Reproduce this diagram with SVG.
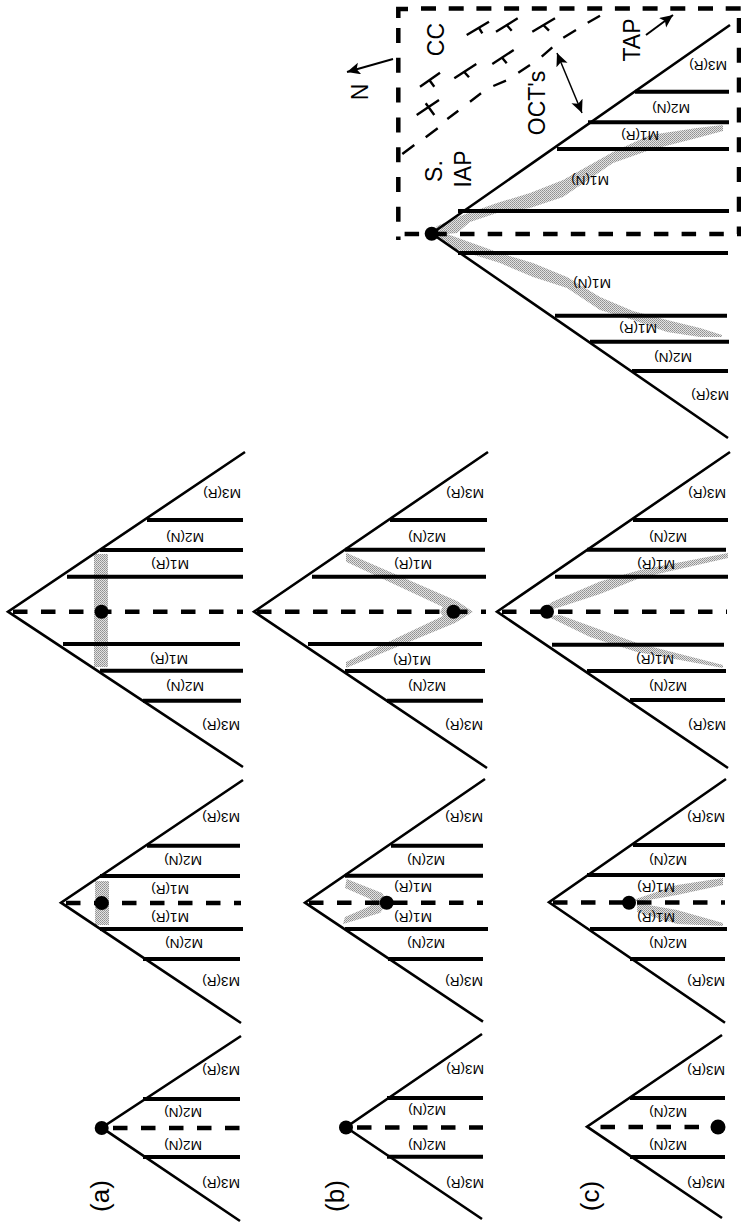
<svg xmlns="http://www.w3.org/2000/svg" width="741" height="1225" viewBox="0 0 741 1225">
<style>
.arm{fill:none;stroke:#000;stroke-width:2.6}
.m{fill:none;stroke:#000;stroke-width:4}
.axis{fill:none;stroke:#000;stroke-width:4.5;stroke-dasharray:14.5 13.5}
.band{fill:url(#st);stroke:none}
.dot{fill:#000}
text{font-family:"Liberation Sans",Arial,sans-serif;fill:#000;text-anchor:middle;dominant-baseline:central}
.l{font-size:13.6px}
.b{font-size:23px}
.p{font-size:26px}
.thin{fill:none;stroke:#000;stroke-width:1.5}
.oct{fill:none;stroke:#000;stroke-width:2.4}
.box{fill:none;stroke:#000;stroke-width:4.5}
</style>
<defs>
<pattern id="st" width="2" height="2" patternUnits="userSpaceOnUse"><rect width="2" height="2" fill="#e2e2e2"/><rect width="1" height="1" fill="#909090"/><rect x="1" y="1" width="1" height="1" fill="#a0a0a0"/></pattern>
<marker id="ah" markerUnits="userSpaceOnUse" markerWidth="16" markerHeight="14" refX="13" refY="6" orient="auto-start-reverse"><path d="M0 0L13 6L0 12L3 6Z" fill="#000"/></marker>
</defs>

<g id="panel-a1">
<path class="arm" d="M241 1036L101.7 1127.7L240 1221"/>
<path class="m" d="M143 1099H240M143 1157H240"/>
<path class="axis" d="M113 1128H240"/>
<circle class="dot" cx="101.7" cy="1128" r="7"/>
<text class="l" x="221" y="1070" transform="rotate(180 221 1070)">M3(R)</text>
<text class="l" x="183" y="1112" transform="rotate(180 183 1112)">M2(N)</text>
<text class="l" x="183" y="1145" transform="rotate(180 183 1145)">M2(N)</text>
<text class="l" x="221" y="1183" transform="rotate(180 221 1183)">M3(R)</text>
<text class="p" x="100" y="1196" transform="rotate(-90 100 1196)">(a)</text>
</g>
<g id="panel-a2">
<rect class="band" x="95" y="881" width="14" height="44"/>
<path class="arm" d="M243 780L61 902.7L241 1023"/>
<path class="m" d="M147 845.7H240M100 876H240M100 929H243M143 959H240"/>
<path class="axis" d="M66 903H241"/>
<circle class="dot" cx="101.7" cy="903" r="7"/>
<text class="l" x="221" y="817" transform="rotate(180 221 817)">M3(R)</text>
<text class="l" x="183" y="860" transform="rotate(180 183 860)">M2(N)</text>
<text class="l" x="170" y="889" transform="rotate(180 170 889)">M1(R)</text>
<text class="l" x="170" y="917" transform="rotate(180 170 917)">M1(R)</text>
<text class="l" x="184" y="943" transform="rotate(180 184 943)">M2(N)</text>
<text class="l" x="221" y="981" transform="rotate(180 221 981)">M3(R)</text>
</g>
<g id="panel-a3">
<rect class="band" x="94" y="554" width="14" height="113"/>
<path class="arm" d="M245 452L8 611.7L243 767"/>
<path class="m" d="M147 520H243M100 550H243M67 576.7H243M63 644H240M100 670.7H243M143 700.7H241"/>
<path class="axis" d="M13 611.7H243"/>
<circle class="dot" cx="101.5" cy="611.7" r="7"/>
<text class="l" x="222" y="493" transform="rotate(180 222 493)">M3(R)</text>
<text class="l" x="185" y="537" transform="rotate(180 185 537)">M2(N)</text>
<text class="l" x="170" y="564" transform="rotate(180 170 564)">M1(R)</text>
<text class="l" x="169" y="659" transform="rotate(180 169 659)">M1(R)</text>
<text class="l" x="185" y="686" transform="rotate(180 185 686)">M2(N)</text>
<text class="l" x="221" y="725" transform="rotate(180 221 725)">M3(R)</text>
</g>

<g id="panel-b1">
<path class="arm" d="M482 1034L346 1127.3L482 1219"/>
<path class="m" d="M387 1098H483M387 1156.7H483"/>
<path class="axis" d="M357 1127.5H483"/>
<circle class="dot" cx="346" cy="1127.5" r="7"/>
<text class="l" x="465" y="1069" transform="rotate(180 465 1069)">M3(R)</text>
<text class="l" x="427" y="1110" transform="rotate(180 427 1110)">M2(N)</text>
<text class="l" x="427" y="1145" transform="rotate(180 427 1145)">M2(N)</text>
<text class="l" x="465" y="1183" transform="rotate(180 465 1183)">M3(R)</text>
<text class="p" x="335" y="1196" transform="rotate(-90 335 1196)">(b)</text>
</g>
<g id="panel-b2">
<path class="band" d="M346.7 879L382 893L388 902.7L380 913L343 924L345 917L368 907L375 902.7L368 898L345 888Z"/>
<path class="arm" d="M485 779L305 902.7L483 1021.7"/>
<path class="m" d="M391 845.7H483M345 875.7H483M345 929H488M388 959H483"/>
<path class="axis" d="M309 902.7H483"/>
<circle class="dot" cx="386.7" cy="902.7" r="7"/>
<text class="l" x="464" y="817" transform="rotate(180 464 817)">M3(R)</text>
<text class="l" x="426" y="860" transform="rotate(180 426 860)">M2(N)</text>
<text class="l" x="413" y="887" transform="rotate(180 413 887)">M1(R)</text>
<text class="l" x="413" y="917" transform="rotate(180 413 917)">M1(R)</text>
<text class="l" x="426" y="943" transform="rotate(180 426 943)">M2(N)</text>
<text class="l" x="464" y="981" transform="rotate(180 464 981)">M3(R)</text>
</g>
<g id="panel-b3">
<path class="band" d="M346 552.7L457 601L473 611.7L455 623L346 668L346 662L443 616L440 611.7L443 607L346 561.7Z"/>
<path class="arm" d="M488 452L254 611.7L487 768"/>
<path class="m" d="M390 520H487M345 549.7H485M312 576.7H486M308 644H482M345 671H485M387 700.7H483"/>
<path class="axis" d="M257 611.7H486"/>
<circle class="dot" cx="453.5" cy="611.7" r="7"/>
<text class="l" x="465" y="493" transform="rotate(180 465 493)">M3(R)</text>
<text class="l" x="427" y="537" transform="rotate(180 427 537)">M2(N)</text>
<text class="l" x="413" y="564" transform="rotate(180 413 564)">M1(R)</text>
<text class="l" x="412" y="660" transform="rotate(180 412 660)">M1(R)</text>
<text class="l" x="427" y="686" transform="rotate(180 427 686)">M2(N)</text>
<text class="l" x="464" y="725" transform="rotate(180 464 725)">M3(R)</text>
</g>

<g id="panel-c1">
<path class="arm" d="M722 1035L587 1126.7L722 1218"/>
<path class="m" d="M630 1098H725M630 1157H725"/>
<path class="axis" d="M600.5 1127H699"/>
<circle class="dot" cx="718" cy="1127" r="7.5"/>
<text class="l" x="706" y="1070" transform="rotate(180 706 1070)">M3(R)</text>
<text class="l" x="668" y="1112" transform="rotate(180 668 1112)">M2(N)</text>
<text class="l" x="668" y="1145" transform="rotate(180 668 1145)">M2(N)</text>
<text class="l" x="706" y="1183" transform="rotate(180 706 1183)">M3(R)</text>
<text class="p" x="590" y="1196" transform="rotate(-90 590 1196)">(c)</text>
</g>
<g id="panel-c2">
<path class="band" d="M677 885L723 878L723 885L677 895L637 902L633 900ZM637 903L677 910L723 923L723 926L677 924L637 912Z"/>
<path class="arm" d="M726 779L549 902.3L725 1022.7"/>
<path class="m" d="M633 845H725M587 875H725M590 929H727M630 959H725"/>
<path class="axis" d="M553 902.5H725"/>
<circle class="dot" cx="629" cy="902.7" r="7"/>
<text class="l" x="706" y="817" transform="rotate(180 706 817)">M3(R)</text>
<text class="l" x="668" y="860" transform="rotate(180 668 860)">M2(N)</text>
<text class="l" x="656" y="887" transform="rotate(180 656 887)">M1(R)</text>
<text class="l" x="656" y="917" transform="rotate(180 656 917)">M1(R)</text>
<text class="l" x="668" y="943" transform="rotate(180 668 943)">M2(N)</text>
<text class="l" x="706" y="981" transform="rotate(180 706 981)">M3(R)</text>
</g>
<g id="panel-c3">
<path class="band" d="M538 611.7L552 602L600 581.5L640 570L728 553L728 558L640 578L600 594L557 608ZM548 616L560 615L637 643L723 665L723 668L637 652L590 637L538 611.7Z"/>
<path class="arm" d="M730 452L497 611.7L728 768"/>
<path class="m" d="M633 520H728M587 549.7H726M555 576.7H728M552 644.7H724M587 671H726M630 700H725"/>
<path class="axis" d="M502 611.7H727"/>
<circle class="dot" cx="547" cy="611.7" r="7"/>
<text class="l" x="707" y="493" transform="rotate(180 707 493)">M3(R)</text>
<text class="l" x="668" y="537" transform="rotate(180 668 537)">M2(N)</text>
<text class="l" x="656" y="564" transform="rotate(180 656 564)">M1(R)</text>
<text class="l" x="655" y="659" transform="rotate(180 655 659)">M1(R)</text>
<text class="l" x="668" y="686" transform="rotate(180 668 686)">M2(N)</text>
<text class="l" x="707" y="725" transform="rotate(180 707 725)">M3(R)</text>
</g>

<g id="panel-large">
<path class="band" d="M432 233L437 226L463 215L497 203L530 193L563 180L613 152L650 135L697 128L723 125L723 131L697 138L650 150L613 163L563 197L530 208L497 213L470 222L457 233L447 234L500 253L533 263L567 277L600 297L633 311L667 320L700 328L722 335L722 337L700 337L667 332L633 320L600 310L567 288L533 277L500 263L458 250L440 240Z"/>
<path class="arm" d="M730 25L431.7 233.5L728 438"/>
<path class="m" d="M635 91.7H729M588 122.3H729M557 149H729M458 211H729M458 253H728M555 315.7H727M590 341.7H729M632 371H728"/>
<circle class="dot" cx="431.7" cy="233.7" r="7"/>
<text class="l" x="708" y="65" transform="rotate(180 708 65)">M3(R)</text>
<text class="l" x="671" y="108" transform="rotate(180 671 108)">M2(N)</text>
<text class="l" x="640" y="135" transform="rotate(180 640 135)">M1(R)</text>
<text class="l" x="590" y="180" transform="rotate(180 590 180)">M1(N)</text>
<text class="l" x="592" y="283" transform="rotate(180 592 283)">M1(N)</text>
<text class="l" x="638" y="328" transform="rotate(180 638 328)">M1(R)</text>
<text class="l" x="673" y="357" transform="rotate(180 673 357)">M2(N)</text>
<text class="l" x="710" y="395" transform="rotate(180 710 395)">M3(R)</text>
</g>

<g id="inset-frame">
<path class="box" d="M398.3 18V9H408"/>
<path class="box" stroke-dasharray="15 12.7" d="M421 8.5H741"/>
<path class="box" stroke-dasharray="15 14.8" d="M398.3 28V240"/>
<path class="box" stroke-dasharray="15 14.8" d="M739 18V234"/>
<path class="box" stroke-dasharray="14.5 13.2" d="M404.6 234H741"/>
</g>

<g id="inset-labels">
<text class="b" x="360" y="92" transform="rotate(-90 360 92)">N</text>
<text class="b" x="436" y="39.5" transform="rotate(-90 436 39.5)">CC</text>
<text class="b" x="537" y="103" transform="rotate(-90 537 103)">OCT's</text>
<text class="b" x="434" y="171" transform="rotate(-90 434 171)">S.</text>
<text class="b" x="463" y="169" transform="rotate(-90 463 169)">IAP</text>
<text class="b" x="632" y="40" transform="rotate(-90 632 40)">TAP</text>
</g>

<g id="connectors">
<path class="thin" style="stroke-width:2" marker-end="url(#ah)" d="M393 59L347 72"/>
<path class="thin" style="stroke-width:2" marker-end="url(#ah)" d="M646 35L673 15"/>
<path class="thin" marker-start="url(#ah)" marker-end="url(#ah)" d="M557 53L582 113"/>
<path class="oct" d="M402.3 154L414.3 145M425.7 137.3L437.7 128.3M447.3 119L458.3 110.7M470 101.7L481 93.3M493.3 86L506 80.7M518.3 72.7L530 65M541.7 56.7L552.3 47.3M563.3 37.7L576 30M587.7 22.7L600 15.7"/>
<path class="oct" d="M466.7 35L489 21.7M478.7 27.3L482.3 33.3M496 31.7L517.7 18.3M506.7 25L511.7 30.7M532.3 31.7L555 18.3M543.3 25L549 30.7M492.3 64L513.7 50M501.7 57.3L506.7 63.3M454.3 78.3L476.3 64M464 71.7L469 77.3M420 86.7L440 72.7M429.3 80L434.3 86.7M416.7 115L439 100M425.7 103.3L434.3 115"/>
</g>
</svg>
